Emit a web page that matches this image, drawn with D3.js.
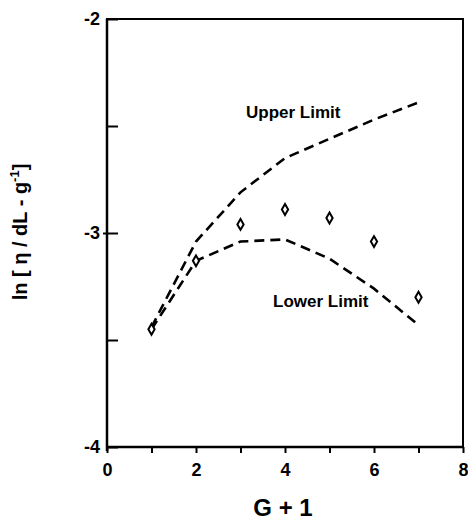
<!DOCTYPE html>
<html>
<head>
<meta charset="utf-8">
<script src="https://d3js.org/d3.v7.min.js"></script>
<style>
  body { margin: 0; background: #fff; }
  text { font-family: "Liberation Sans", Arial, Helvetica, sans-serif; font-weight: bold; fill: #000; }
  .axis .domain { stroke: none; }
  .axis line { stroke: #000; stroke-width: 2; }
</style>
</head>
<body>
<svg id="chart" width="468" height="523"></svg>
<script>
// data
const gValues = [1, 2, 3, 4, 5, 6, 7];
const measured = [-3.45, -3.13, -2.96, -2.89, -2.93, -3.04, -3.30];
const upperLimit = [-3.44, -3.04, -2.81, -2.65, -2.56, -2.47, -2.39];
const lowerLimit = [-3.45, -3.13, -3.04, -3.03, -3.12, -3.26, -3.43];
const xTicks = [0, 1, 2, 3, 4, 5, 6, 7, 8];
const yTicks = [-4, -3.5, -3, -2.5, -2];

const svg = d3.select('svg#chart');
const plot = {left: 107, right: 463, top: 19, bottom: 447};

const x = d3.scaleLinear().domain([0, 8]).range([plot.left, plot.right]);
const y = d3.scaleLinear().domain([-4, -2]).range([plot.bottom, plot.top]);

// frame
svg.append('rect')
   .attr('x', plot.left).attr('y', plot.top)
   .attr('width', plot.right - plot.left).attr('height', plot.bottom - plot.top)
   .attr('fill', 'none').attr('stroke', '#000').attr('stroke-width', 2);
svg.append('line')
   .attr('x1', plot.left).attr('x2', plot.left).attr('y1', plot.top).attr('y2', plot.bottom + 4)
   .attr('stroke', '#000').attr('stroke-width', 2.5);
svg.append('line')
   .attr('x1', plot.left).attr('x2', plot.right).attr('y1', plot.bottom).attr('y2', plot.bottom)
   .attr('stroke', '#000').attr('stroke-width', 2.5);

// x axis, ticks point down
let bottomAxis = d3.axisBottom(x)
    .tickValues(xTicks)
    .tickSize(6)
    .tickPadding(10)
    .tickFormat(d => d % 2 === 0 ? d : '');
svg.append('g').attr('class', 'x axis')
   .attr('transform', `translate(0,${plot.bottom})`)
   .call(bottomAxis)
   .selectAll('text').style('font-size', '18px');

// y axis, ticks point inside
let leftAxis = d3.axisLeft(y)
    .tickValues(yTicks)
    .tickSizeInner(-11)
    .tickPadding(7)
    .tickFormat(d => Number.isInteger(d) ? d : '');
let gy = svg.append('g').attr('class', 'y axis')
   .attr('transform', `translate(${plot.left},0)`)
   .call(leftAxis);
gy.selectAll('text').style('font-size', '18px');
gy.selectAll('.tick')
  .filter(d => d === -3)
  .append('line').attr('x1', -4).attr('x2', 0);

// limit curves
const line = d3.line()
    .x((d, i) => x(gValues[i]))
    .y(d => y(d));

[upperLimit, lowerLimit].forEach(series => {
  svg.append('path')
     .attr('d', line(series))
     .attr('fill', 'none')
     .attr('stroke', '#000')
     .attr('stroke-width', 2.6)
     .attr('stroke-dasharray', '10,6');
});

// measured points
const diamond = d3.symbol().type(d3.symbolDiamond).size(34);
svg.selectAll('path.pt')
   .data(measured)
   .join('path')
   .attr('class', 'pt')
   .attr('transform', (d, i) => `translate(${x(gValues[i])},${y(d)})`)
   .attr('d', diamond)
   .attr('fill', '#fff')
   .attr('stroke', '#000')
   .attr('stroke-width', 2);

// curve labels
svg.append('text')
   .attr('x', 246).attr('y', 118)
   .style('font-size', '17px')
   .text('Upper Limit');
svg.append('text')
   .attr('x', 273).attr('y', 307)
   .style('font-size', '17px')
   .text('Lower Limit');

// axis titles
svg.append('text')
   .attr('x', 283).attr('y', 516)
   .attr('text-anchor', 'middle')
   .style('font-size', '24px')
   .text('G + 1');

let yt = svg.append('text')
   .attr('transform', 'translate(27,232) rotate(-90)')
   .attr('text-anchor', 'middle')
   .style('font-size', '20px');
yt.append('tspan').text('ln [ η / dL - g');
yt.append('tspan').attr('dy', -8).style('font-size', '13px').text('-1');
yt.append('tspan').attr('dy', 8).text(']');
</script>
</body>
</html>
